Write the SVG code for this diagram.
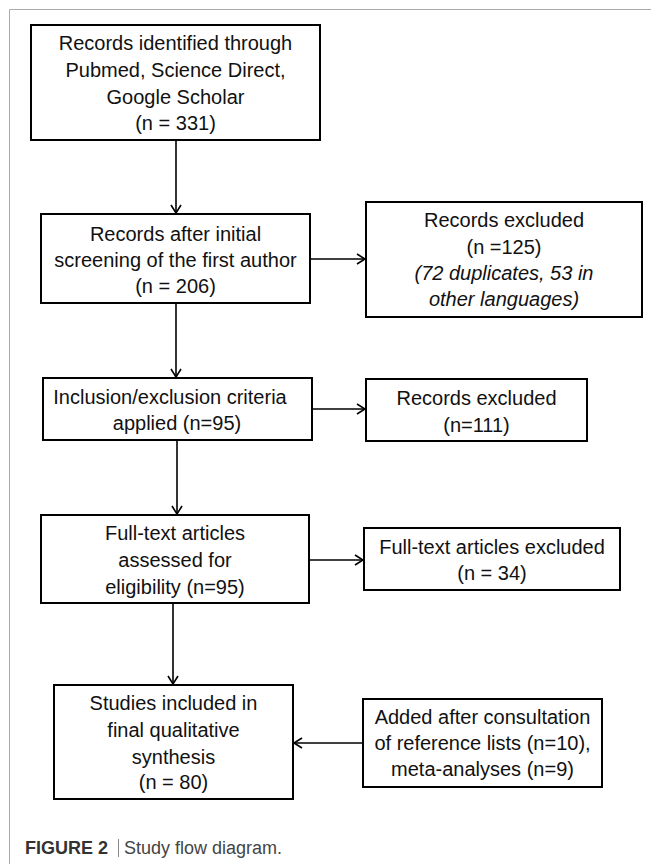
<svg xmlns="http://www.w3.org/2000/svg" width="651" height="864" viewBox="0 0 651 864">
<defs>
<marker id="arr" markerUnits="userSpaceOnUse" markerWidth="12" markerHeight="14" refX="9" refY="6" orient="auto">
<path d="M1,1 L9,6 L1,11" fill="none" stroke="#000" stroke-width="1.6"/>
</marker>
<style>
.box{fill:#fff;stroke:#000;stroke-width:2}
.t{font-family:"Liberation Sans",Arial,sans-serif;font-size:20px;fill:#111;text-anchor:middle}
.it{font-style:italic}
.c{stroke:#000;stroke-width:1.6;fill:none;marker-end:url(#arr)}
.cap{font-family:"Liberation Sans",Arial,sans-serif;font-size:18px}
</style>
</defs>
<rect x="0" y="0" width="651" height="864" fill="#fff"/>
<path d="M9.5,864 V9.5 H651" fill="none" stroke="#aaa" stroke-width="1"/>

<g id="connectors">
<line class="c" x1="176" y1="140" x2="176" y2="213"/>
<line class="c" x1="310" y1="259" x2="365" y2="259"/>
<line class="c" x1="176" y1="303" x2="176" y2="377"/>
<line class="c" x1="312" y1="409" x2="365" y2="409"/>
<line class="c" x1="177" y1="440" x2="177" y2="514"/>
<line class="c" x1="309" y1="560" x2="363" y2="560"/>
<line class="c" x1="173" y1="603" x2="173" y2="684"/>
<line class="c" x1="363" y1="743" x2="294" y2="743"/>
</g>

<g id="n1">
<rect class="box" x="31" y="25" width="289" height="115"/>
<text class="t" x="175.5" y="50">Records identified through</text>
<text class="t" x="175.5" y="77">Pubmed, Science Direct,</text>
<text class="t" x="175.5" y="104">Google Scholar</text>
<text class="t" x="175.5" y="130">(n = 331)</text>
</g>

<g id="n2">
<rect class="box" x="41" y="214" width="269" height="89"/>
<text class="t" x="175.5" y="241">Records after initial</text>
<text class="t" x="175.5" y="267">screening of the first author</text>
<text class="t" x="175.5" y="293">(n = 206)</text>
</g>

<g id="n3">
<rect class="box" x="366" y="202" width="276" height="115"/>
<text class="t" x="504" y="227">Records excluded</text>
<text class="t" x="504" y="254">(n =125)</text>
<text class="t it" x="504" y="280">(72 duplicates, 53 in</text>
<text class="t it" x="504" y="306">other languages)</text>
</g>

<g id="n4">
<rect class="box" x="43" y="378" width="269" height="62"/>
<text class="t" x="170" y="404">Inclusion/exclusion criteria</text>
<text class="t" x="177" y="430">applied (n=95)</text>
</g>

<g id="n5">
<rect class="box" x="366" y="379" width="221" height="62"/>
<text class="t" x="476.5" y="405">Records excluded</text>
<text class="t" x="476.5" y="432">(n=111)</text>
</g>

<g id="n6">
<rect class="box" x="41" y="515" width="268" height="88"/>
<text class="t" x="175" y="540">Full-text articles</text>
<text class="t" x="175" y="567">assessed for</text>
<text class="t" x="175" y="594">eligibility (n=95)</text>
</g>

<g id="n7">
<rect class="box" x="364" y="528" width="256" height="62"/>
<text class="t" x="492" y="554">Full-text articles excluded</text>
<text class="t" x="492" y="580">(n = 34)</text>
</g>

<g id="n8">
<rect class="box" x="54" y="685" width="239" height="114"/>
<text class="t" x="173.5" y="710">Studies included in</text>
<text class="t" x="173.5" y="737">final qualitative</text>
<text class="t" x="173.5" y="764">synthesis</text>
<text class="t" x="173.5" y="789">(n = 80)</text>
</g>

<g id="n9">
<rect class="box" x="363" y="699" width="239" height="88"/>
<text class="t" x="482.5" y="724">Added after consultation</text>
<text class="t" x="482.5" y="750">of reference lists (n=10),</text>
<text class="t" x="482.5" y="776">meta-analyses (n=9)</text>
</g>

<g id="caption">
<text class="cap" x="25" y="854" font-weight="bold" fill="#333">FIGURE 2</text>
<line x1="118.5" y1="839" x2="118.5" y2="857" stroke="#888" stroke-width="1"/>
<text class="cap" x="124" y="854" fill="#444">Study flow diagram.</text>
</g>
</svg>
